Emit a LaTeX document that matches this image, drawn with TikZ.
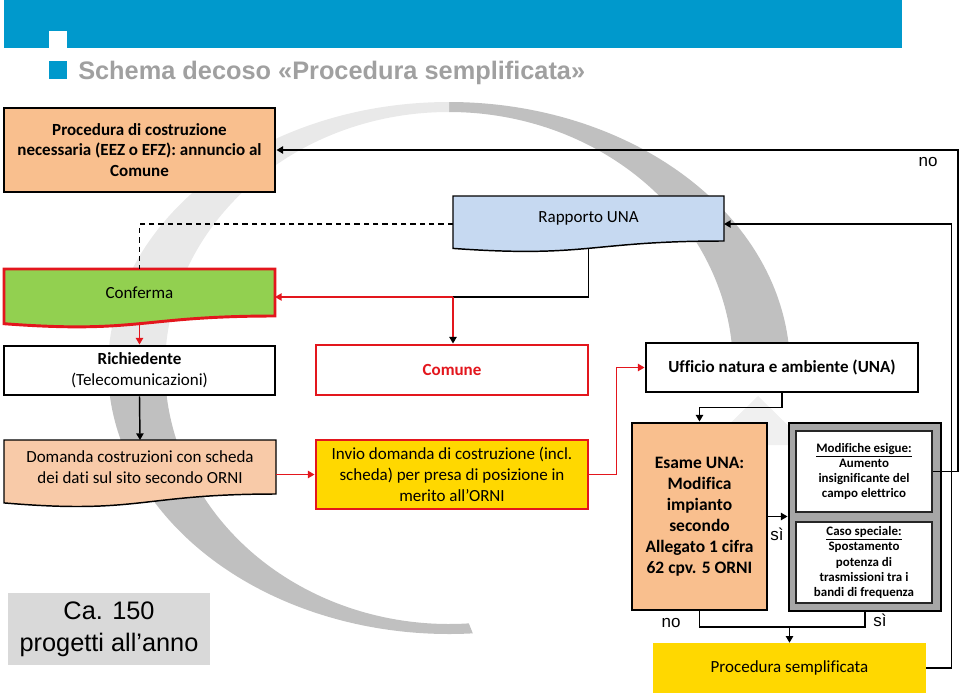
\documentclass[tikz,border=0pt]{standalone}
\usepackage{fontspec}
\setmainfont{Carlito}[Ligatures=NoCommon]
\newfontfamily\arialf{Liberation Sans}
\usetikzlibrary{calc,arrows.meta}
\definecolor{hdrblue}{HTML}{0099CC}
\definecolor{peach}{HTML}{F9BF8E}
\definecolor{peachlt}{HTML}{F8CAA8}
\definecolor{grn}{HTML}{92D050}
\definecolor{ltblue}{HTML}{C6D9F1}
\definecolor{yel}{HTML}{FFD800}
\definecolor{redl}{HTML}{E3161D}
\definecolor{grp}{HTML}{A6A6A6}
\definecolor{cabox}{HTML}{D9D9D9}
\definecolor{ringdark}{HTML}{C0C0C0}
\definecolor{ringlight}{HTML}{E9E9E9}
\definecolor{ringfaint}{HTML}{F0F0F0}
\definecolor{titlegray}{HTML}{A0A0A0}
\newcommand\boxfont{\fontsize{12.75pt}{15.5pt}\selectfont}
\newcommand\esamefont{\fontsize{13.1pt}{15.75pt}\selectfont}
\newcommand\smallfont{\fontsize{9.7pt}{11.4pt}\selectfont}
\pgfdeclarelayer{ring}
\pgfdeclarelayer{bg}
\pgfsetlayers{ring,bg,main}
\begin{document}
\begin{tikzpicture}[x=0.75pt,y=-0.75pt,
  box/.style={draw=black, line width=2.2pt, inner sep=0pt, align=center, font=\boxfont},
  docnode/.style={draw=none, inner sep=0pt, outer sep=0pt, align=center, font=\boxfont},
  smallbox/.style={draw=black!85, fill=white, line width=1.2pt, inner sep=0pt, align=center, font=\smallfont\bfseries},
  lbl/.style={inner sep=0pt, font=\arialf\fontsize{12.75pt}{15pt}\selectfont},
  tip/.tip={Triangle[length=5pt,width=5.5pt]},
  conn/.style={draw=black, line width=1.1pt},
  redconn/.style={draw=redl, line width=1.1pt}
]
\useasboundingbox (0,0) rectangle (960,697);

% watermark ring
\begin{pgfonlayer}{ring}
\begin{scope}[shift={(449,368)}]
\fill[ringdark] (-90:341 and 266) arc[start angle=-90,end angle=4,x radius=341,y radius=266]
  -- (4:284 and 256) arc[start angle=4,end angle=-90,x radius=284,y radius=256] -- cycle;
\fill[ringlight] (180:341 and 266) arc[start angle=180,end angle=270,x radius=341,y radius=266]
  -- (270:284 and 256) arc[start angle=270,end angle=180,x radius=284,y radius=256] -- cycle;
\fill[ringdark] (86:341 and 266) arc[start angle=86,end angle=180,x radius=341,y radius=266]
  -- (180:284 and 256) arc[start angle=180,end angle=86,x radius=284,y radius=256] -- cycle;
\end{scope}
\fill[ringfaint] (758,396) -- (808,445) -- (708,445) -- cycle;
\end{pgfonlayer}

% header
\fill[hdrblue] (4,0) rectangle (902,48);
\fill[white] (49,31) rectangle (67,49);
\fill[hdrblue] (49,61) rectangle (67,79);
\node[anchor=base west, inner sep=0pt, font=\arialf\bfseries\fontsize{19pt}{22pt}\selectfont, text=titlegray] (title) at (78,79) {Schema decoso «Procedura semplificata»};

% nodes
\node[box, fill=peach, minimum width=203.25pt, minimum height=63pt, font=\boxfont\bfseries] (proc) at (139.5,150)
  {Procedura di costruzione\\necessaria (EEZ o EFZ): annuncio al\\Comune};
\node[docnode, minimum width=203.25pt, minimum height=33.75pt] (rapp) at (588.5,218.5) {Rapporto UNA};
\node[docnode, minimum width=203.25pt, minimum height=35.25pt] (conf) at (139.5,292.5) {Conferma};
\node[box, fill=white, minimum width=203.25pt, minimum height=36.75pt] (rich) at (139.5,370.5)
  {\textbf{Richiedente}\\(Telecomunicazioni)};
\node[box, draw=redl, fill=white, minimum width=204pt, minimum height=37.5pt, text=redl, font=\boxfont\bfseries] (comune) at (452,370) {Comune};
\node[box, fill=white, minimum width=204pt, minimum height=36.75pt, font=\boxfont\bfseries] (una) at (782,367.5) {Ufficio natura e ambiente (UNA)};
\node[docnode, minimum width=204pt, minimum height=40.5pt] (dom) at (140,467)
  {Domanda costruzioni con scheda\\dei dati sul sito secondo ORNI};
\node[box, draw=redl, fill=yel, minimum width=204pt, minimum height=51.75pt] (invio) at (452,474.5)
  {Invio domanda di costruzione (incl.\\scheda) per presa di posizione in\\merito all’ORNI};
\node[box, fill=peach, minimum width=101.25pt, minimum height=140.25pt, font=\esamefont\bfseries] (esame) at (699.5,516.5)
  {Esame UNA:\\Modifica\\impianto\\secondo\\Allegato 1 cifra\\62 cpv. 5 ORNI};
\node[box, fill=grp, minimum width=114pt, minimum height=141pt] (grp) at (865,517) {};
\node[smallbox, minimum width=102pt, minimum height=60.75pt] (mod) at (864,471.5)
  {\underline{Modifiche esigue:}\\Aumento\\insignificante del\\campo elettrico};
\node[smallbox, minimum width=102pt, minimum height=60.75pt] (caso) at (864,562.5)
  {\underline{Caso speciale:}\\Spostamento\\potenza di\\trasmissioni tra i\\bandi di frequenza};
\node[fill=yel, inner sep=0pt, minimum width=204.75pt, minimum height=37.5pt, font=\boxfont] (semp) at (789.5,668) {Procedura semplificata};
\node[fill=cabox, inner sep=0pt, minimum width=151.5pt, minimum height=54pt, align=center, font=\arialf\fontsize{19pt}{24pt}\selectfont] (ca) at (109,629)
  {Ca. 150\\progetti all’anno};

% document shapes
\begin{pgfonlayer}{bg}
\filldraw[fill=ltblue, draw=black, line width=1.1pt] (rapp.north west) -- (rapp.north east) -- (rapp.south east)
  .. controls (rapp.south) and ($(rapp.south)+(0,17.1)$) .. ($(rapp.south west)+(0,7.4)$) -- cycle;
\filldraw[fill=grn, draw=redl, line width=2.2pt] (conf.north west) -- (conf.north east) -- (conf.south east)
  .. controls (conf.south) and ($(conf.south)+(0,17.9)$) .. ($(conf.south west)+(0,7.7)$) -- cycle;
\filldraw[fill=peachlt, draw=black, line width=1.1pt] (dom.north west) -- (dom.north east) -- (dom.south east)
  .. controls (dom.south) and ($(dom.south)+(0,20.6)$) .. ($(dom.south west)+(0,8.9)$) -- cycle;
\end{pgfonlayer}

% labels
\node[lbl] (lno1) at (928,162) {no};
\node[lbl] (lsi1) at (777,534) {sì};
\node[lbl] (lno2) at (671,623) {no};
\node[lbl] (lsi2) at (880,620) {sì};

% connectors
\coordinate (rappw) at ($(rapp.west)+(0,5.5)$);
\coordinate (rappe) at ($(rapp.east)+(0,5.5)$);
\draw[conn, dash pattern=on 4pt off 3pt] (rappw) -| (conf.north);
\coordinate (j1) at ($(rapp.south)+(0,56)$);
\coordinate (j2) at (rapp.west |- j1);
\draw[conn] ($(rapp.south)+(0,7.3)$) -- (j1) -- (j2);
\draw[redconn, -tip] (j2) -- (conf.east |- j2);
\draw[redconn, -{Triangle[length=5pt,width=5.5pt,color=black]}] (j2) -- (j2 |- comune.north);
\draw[redconn, -tip] ($(conf.south)+(0,7.7)$) -- (rich.north);
\draw[conn, -tip] (rich.south) -- (dom.north);
\draw[redconn, -tip] (dom.east |- invio.west) -- (invio.west);
\draw[redconn, -tip] (invio.east) -- ++(27,0) |- (una.west);
\draw[conn, -tip] (una.south) -- ++(0,14) -| (esame.north);
\draw[conn, -tip] (esame.east) -- (grp.west |- esame.east);
\coordinate (j3) at ($(esame.south)+(0,15.5)$);
\draw[conn] (esame.south) -- (j3) -| (grp.south);
\draw[conn, -tip] (j3 -| semp.north) -- (semp.north);
\draw[conn, -tip] (mod.east) -- ++(25,0) |- (proc.east);
\draw[conn, -tip] (semp.east) -- ++(25,0) |- (rappe);
\end{tikzpicture}
\end{document}
